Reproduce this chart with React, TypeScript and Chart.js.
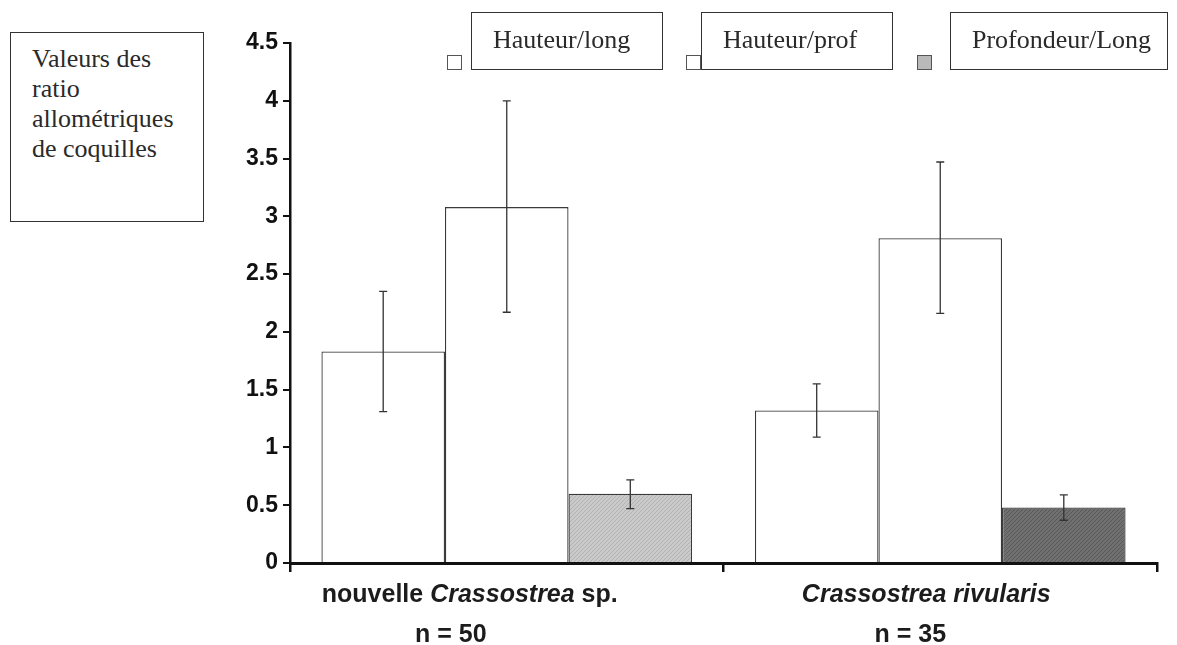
import React, { useEffect, useRef } from "react";
import { Chart, registerables } from "chart.js";

Chart.register(...registerables);

// ---------- data ----------
const categories = ["nouvelle Crassostrea sp.", "Crassostrea rivularis"];
const categoryLabelParts: [string, boolean][][] = [
  [["nouvelle ", false], ["Crassostrea", true], [" sp.", false]],
  [["Crassostrea rivularis", true]],
];
const sampleSizes = ["n = 50", "n = 35"];
const seriesNames = ["Hauteur/long", "Hauteur/prof", "Profondeur/Long"];

const hauteurLong = [1.83, 1.32];
const hauteurLongLow = [1.31, 1.09];
const hauteurLongHigh = [2.35, 1.55];

const hauteurProf = [3.08, 2.81];
const hauteurProfLow = [2.17, 2.16];
const hauteurProfHigh = [4.0, 3.47];

const profondeurLong = [0.6, 0.48];
const profondeurLongLow = [0.47, 0.37];
const profondeurLongHigh = [0.72, 0.59];

const yMin = 0;
const yMax = 4.5;
const yStep = 0.5;

const boxTitleLines = ["Valeurs des", "ratio", "allométriques", "de coquilles"];

// ---------- helpers ----------
function makeHatch(base: string, line: string): CanvasPattern | string {
  const c = document.createElement("canvas");
  c.width = 4;
  c.height = 4;
  const g = c.getContext("2d");
  if (!g) return base;
  g.fillStyle = base;
  g.fillRect(0, 0, 4, 4);
  g.fillStyle = line;
  for (let i = 0; i < 4; i++) g.fillRect(i, 3 - i, 1, 1);
  const p = g.createPattern(c, "repeat");
  return p || base;
}

const lows = [hauteurLongLow, hauteurProfLow, profondeurLongLow];
const highs = [hauteurLongHigh, hauteurProfHigh, profondeurLongHigh];

const errorBarPlugin = {
  id: "errorBars",
  afterDatasetsDraw(chart: any) {
    const ctx = chart.ctx;
    const ys = chart.scales.y;
    ctx.save();
    ctx.strokeStyle = "#333";
    ctx.lineWidth = 1.3;
    chart.data.datasets.forEach((_: any, d: number) => {
      const meta = chart.getDatasetMeta(d);
      meta.data.forEach((el: any, i: number) => {
        const x = el.x;
        const y1 = ys.getPixelForValue(lows[d][i]);
        const y2 = ys.getPixelForValue(highs[d][i]);
        ctx.beginPath();
        ctx.moveTo(x, y1);
        ctx.lineTo(x, y2);
        ctx.moveTo(x - 4, y1);
        ctx.lineTo(x + 4, y1);
        ctx.moveTo(x - 4, y2);
        ctx.lineTo(x + 4, y2);
        ctx.stroke();
      });
    });
    ctx.restore();
  },
};

const line1Offsets = [-37, -14];
const line2Offsets = [-56, -30];

const xLabelPlugin = {
  id: "xLabels",
  afterDraw(chart: any) {
    const ctx = chart.ctx;
    const xs = chart.scales.x;
    const font = (it: boolean) =>
      `${it ? "italic " : ""}bold 25px "Liberation Sans", Arial, sans-serif`;
    ctx.save();
    ctx.fillStyle = "#1c1c1c";
    ctx.textBaseline = "alphabetic";
    categoryLabelParts.forEach((parts, i) => {
      const cx = xs.getPixelForValue(i);
      let total = 0;
      const widths = parts.map(([t, it]) => {
        ctx.font = font(it);
        const w = ctx.measureText(t).width;
        total += w;
        return w;
      });
      let x = cx + line1Offsets[i] - total / 2;
      ctx.textAlign = "left";
      parts.forEach(([t, it], k) => {
        ctx.font = font(it);
        ctx.fillText(t, x, xs.top + 39);
        x += widths[k];
      });
      ctx.font = font(false);
      ctx.textAlign = "center";
      ctx.fillText(sampleSizes[i], cx + line2Offsets[i], xs.top + 79);
    });
    ctx.restore();
  },
};

export default function App() {
  const ref = useRef<HTMLCanvasElement | null>(null);

  useEffect(() => {
    if (!ref.current) return;
    const lightHatch = makeHatch("#cacaca", "#b2b2b2");
    const darkHatch = makeHatch("#707070", "#585858");
    const chart = new Chart(ref.current, {
      type: "bar",
      data: {
        labels: categories,
        datasets: [
          {
            label: seriesNames[0],
            data: hauteurLong,
            backgroundColor: "#ffffff",
            borderColor: "#3a3a3a",
            borderWidth: 1.3,
          },
          {
            label: seriesNames[1],
            data: hauteurProf,
            backgroundColor: "#ffffff",
            borderColor: "#3a3a3a",
            borderWidth: 1.3,
          },
          {
            label: seriesNames[2],
            data: profondeurLong,
            backgroundColor: [lightHatch, darkHatch] as any,
            borderColor: "#3a3a3a",
            borderWidth: 1.3,
          },
        ],
      },
      options: {
        animation: false,
        responsive: false,
        layout: { padding: { top: 43, bottom: 82, right: 20, left: 0 } },
        datasets: {
          bar: { barPercentage: 1, categoryPercentage: 0.855 },
        } as any,
        plugins: {
          legend: { display: false },
          tooltip: { enabled: false },
        },
        scales: {
          x: {
            type: "category",
            z: 1,
            ticks: { display: false },
            grid: {
              offset: true,
              drawOnChartArea: false,
              drawTicks: true,
              tickLength: 9,
              color: "#111",
              lineWidth: 2.5,
            },
            border: { display: true, color: "#111", width: 3 },
            afterFit: (s: any) => {
              s.height = 0;
            },
          },
          y: {
            type: "linear",
            z: 1,
            min: yMin,
            max: yMax,
            ticks: {
              stepSize: yStep,
              color: "#111",
              padding: 5,
              callback: (v: any) => String(Number(v)),
              font: { family: '"Liberation Sans", Arial, sans-serif', size: 23, weight: "bold" },
            },
            grid: {
              drawOnChartArea: false,
              drawTicks: true,
              tickLength: 7,
              color: "#111",
              lineWidth: 2,
            },
            border: { display: true, color: "#111", width: 2.5 },
            afterFit: (s: any) => {
              s.width = 290;
            },
          },
        },
      },
      plugins: [errorBarPlugin, xLabelPlugin],
    });
    return () => chart.destroy();
  }, []);

  const serif = '"Liberation Serif", "Times New Roman", serif';
  const legendSquares = [
    { left: 447, fill: "#ffffff" },
    { left: 686, fill: "#ffffff" },
    { left: 917, fill: "#b9b9b9" },
  ];
  const legendBoxes = [
    { left: 471, width: 192 },
    { left: 701, width: 192 },
    { left: 950, width: 218 },
  ];

  return (
    <div
      style={{
        position: "absolute",
        left: 0,
        top: 0,
        width: 1177,
        height: 645,
        background: "#fff",
        overflow: "hidden",
      }}
    >
      <canvas ref={ref} width={1177} height={645} style={{ position: "absolute", left: 0, top: 0 }} />
      <div
        style={{
          position: "absolute",
          left: 10,
          top: 32,
          width: 194,
          height: 190,
          boxSizing: "border-box",
          border: "1.5px solid #333",
          padding: "11px 0 0 21px",
          fontFamily: serif,
          fontSize: 26,
          lineHeight: "30px",
          color: "#2a2a2a",
          background: "#fff",
        }}
      >
        {boxTitleLines.map((l, i) => (
          <div key={i}>{l}</div>
        ))}
      </div>
      {seriesNames.map((name, i) => (
        <React.Fragment key={name}>
          <div
            style={{
              position: "absolute",
              left: legendSquares[i].left,
              top: 55,
              width: 15,
              height: 15,
              boxSizing: "border-box",
              border: "1px solid #555",
              background: legendSquares[i].fill,
            }}
          />
          <div
            style={{
              position: "absolute",
              left: legendBoxes[i].left,
              top: 12,
              width: legendBoxes[i].width,
              height: 58,
              boxSizing: "border-box",
              border: "1.5px solid #333",
              background: "#fff",
            }}
          >
            <div
              style={{
                position: "absolute",
                left: 21,
                top: 12,
                fontFamily: serif,
                fontSize: 26,
                lineHeight: "30px",
                color: "#2a2a2a",
                whiteSpace: "nowrap",
              }}
            >
              {name}
            </div>
          </div>
        </React.Fragment>
      ))}
    </div>
  );
}
